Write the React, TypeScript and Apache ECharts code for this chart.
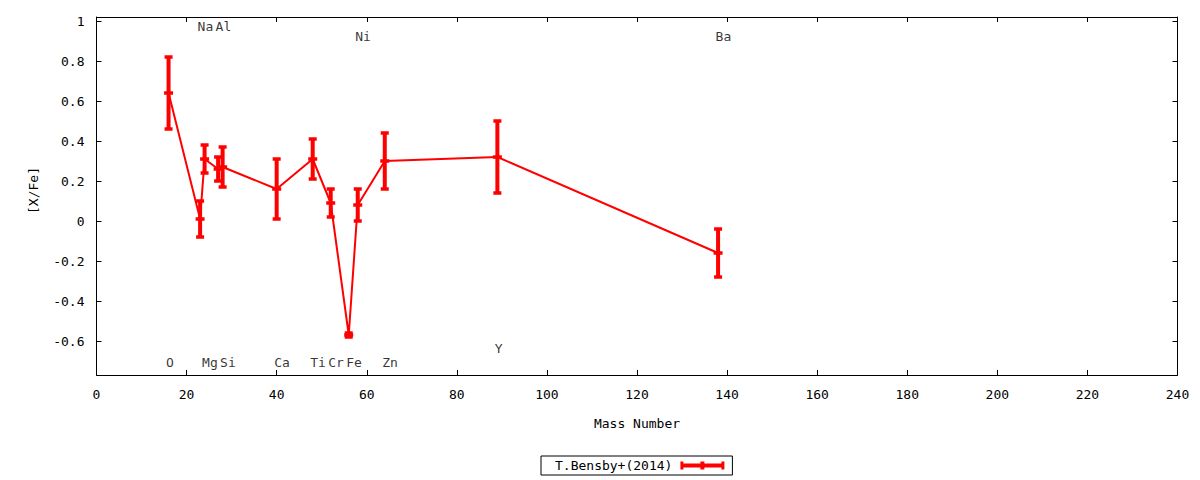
import React, { useEffect, useRef } from "react";
import * as echarts from "echarts";

const FONT = "DejaVu Sans Mono";
const RED = "#ff0000";

const elements = ["O", "Na", "Mg", "Al", "Si", "Ca", "Ti", "Cr", "Fe", "Ni", "Zn", "Y", "Ba"];
const masses = [16, 23, 24, 27, 28, 40, 48, 52, 56, 58, 64, 89, 138];
const values = [0.64, 0.01, 0.31, 0.26, 0.27, 0.16, 0.31, 0.09, -0.57, 0.08, 0.3, 0.32, -0.16];
const errors = [0.18, 0.09, 0.07, 0.06, 0.1, 0.15, 0.1, 0.07, 0.01, 0.08, 0.14, 0.18, 0.12];
const labelY = [-0.71, 0.97, -0.71, 0.97, -0.71, -0.71, -0.71, -0.71, -0.71, 0.92, -0.71, -0.64, 0.92];

const xTicks = { min: 0, max: 240, interval: 20 };
const yRange = { min: -0.77, max: 1.02 };
const yTicks = [-0.6, -0.4, -0.2, 0, 0.2, 0.4, 0.6, 0.8, 1];
const seriesName = "T.Bensby+(2014)";

export default function App() {
  const ref = useRef<HTMLDivElement>(null);
  useEffect(() => {
    if (!ref.current) return;
    const chart = echarts.init(ref.current, null, { renderer: "svg" });
    const lineData = masses.map((m, i) => [m, values[i]]);
    const errData = masses.map((m, i) => [m, values[i], errors[i]]);
    const lblData = masses.map((m, i) => ({ name: elements[i], value: [m, labelY[i]] }));

    const axisLine = { show: true, onZero: false, lineStyle: { color: "#000", width: 1 } };
    const tickStyle = { color: "#000", width: 1 };

    const option: any = {
      animation: false,
      backgroundColor: "#fff",
      grid: { left: 96.5, right: 22.5, top: 17, bottom: 105, containLabel: false },
      xAxis: [
        {
          type: "value",
          position: "bottom",
          min: xTicks.min,
          max: xTicks.max,
          interval: xTicks.interval,
          axisLine,
          axisTick: { show: true, inside: true, length: 5, lineStyle: tickStyle },
          splitLine: { show: false },
          axisLabel: { color: "#000", fontFamily: FONT, fontSize: 13, margin: 13 },
          name: "Mass Number",
          nameLocation: "middle",
          nameGap: 42,
          nameTextStyle: { color: "#000", fontFamily: FONT, fontSize: 13 },
        },
        {
          type: "value",
          position: "top",
          min: xTicks.min,
          max: xTicks.max,
          interval: xTicks.interval,
          axisLine,
          axisTick: { show: true, inside: true, length: 5, lineStyle: tickStyle },
          splitLine: { show: false },
          axisLabel: { show: false },
        },
      ],
      yAxis: [
        {
          type: "value",
          position: "left",
          min: yRange.min,
          max: yRange.max,
          axisLine,
          axisTick: { show: true, inside: true, length: 5, lineStyle: tickStyle, customValues: yTicks },
          splitLine: { show: false },
          axisLabel: {
            color: "#000",
            fontFamily: FONT,
            fontSize: 13,
            margin: 12,
            customValues: yTicks,
            formatter: (v: number) => String(Number(Number(v).toFixed(1))),
          },
          name: "[X/Fe]",
          nameLocation: "middle",
          nameGap: 57,
          nameTextStyle: { color: "#000", fontFamily: FONT, fontSize: 13, padding: [0, 0, 0, 11] },
        },
        {
          type: "value",
          position: "right",
          min: yRange.min,
          max: yRange.max,
          axisLine,
          axisTick: { show: true, inside: true, length: 5, lineStyle: tickStyle, customValues: yTicks },
          splitLine: { show: false },
          axisLabel: { show: false },
        },
      ],
      legend: {
        left: 541,
        top: 456,
        align: "right",
        orient: "horizontal",
        selectedMode: false,
        data: [
          {
            name: seriesName,
            icon: "path://M0 2H44V6H0Z M0 0H3V8H0Z M20 0H24V8H20Z M41 0H44V8H41Z",
          },
        ],
        itemWidth: 44,
        itemHeight: 8,
        padding: [2, 8, 2, 14],
        borderColor: "#000",
        borderWidth: 1,
        borderRadius: 0,
        textStyle: {
          color: "#000",
          fontFamily: FONT,
          fontSize: 13,
          lineHeight: 15,
          padding: [0, 3, 0, 0],
        },
      },
      series: [
        {
          name: "line",
          type: "line",
          data: lineData,
          symbol: "none",
          lineStyle: { color: RED, width: 2 },
          itemStyle: { color: RED },
          silent: true,
          z: 2,
        },
        {
          name: seriesName,
          type: "custom",
          data: errData,
          itemStyle: { color: RED },
          z: 3,
          silent: true,
          renderItem: (params: any, api: any) => {
            const x = api.value(0);
            const y = api.value(1);
            const e = api.value(2);
            const c = api.coord([x, y]);
            const t = api.coord([x, y + e]);
            const b = api.coord([x, y - e]);
            const barW = 4;
            const capW = 8;
            const capH = 3.5;
            const midW = 9;
            const style = { fill: RED };
            return {
              type: "group",
              children: [
                { type: "rect", shape: { x: c[0] - barW / 2, y: t[1], width: barW, height: b[1] - t[1] }, style },
                { type: "rect", shape: { x: c[0] - capW / 2, y: t[1] - capH / 2, width: capW, height: capH }, style },
                { type: "rect", shape: { x: c[0] - capW / 2, y: b[1] - capH / 2, width: capW, height: capH }, style },
                { type: "rect", shape: { x: c[0] - midW / 2, y: c[1] - capH / 2, width: midW, height: capH }, style },
              ],
            };
          },
        },
        {
          name: "labels",
          type: "scatter",
          data: lblData,
          symbolSize: 1,
          itemStyle: { color: "transparent" },
          silent: true,
          label: {
            show: true,
            position: [-2, 0],
            align: "left",
            verticalAlign: "middle",
            formatter: (p: any) => p.name,
            color: "#000",
            fontFamily: FONT,
            fontSize: 13,
          },
          z: 4,
        },
      ],
    };
    chart.setOption(option);
    return () => chart.dispose();
  }, []);
  return (
    <div
      ref={ref}
      style={{ position: "fixed", left: 0, top: 0, width: 1200, height: 480, background: "#fff" }}
    />
  );
}
